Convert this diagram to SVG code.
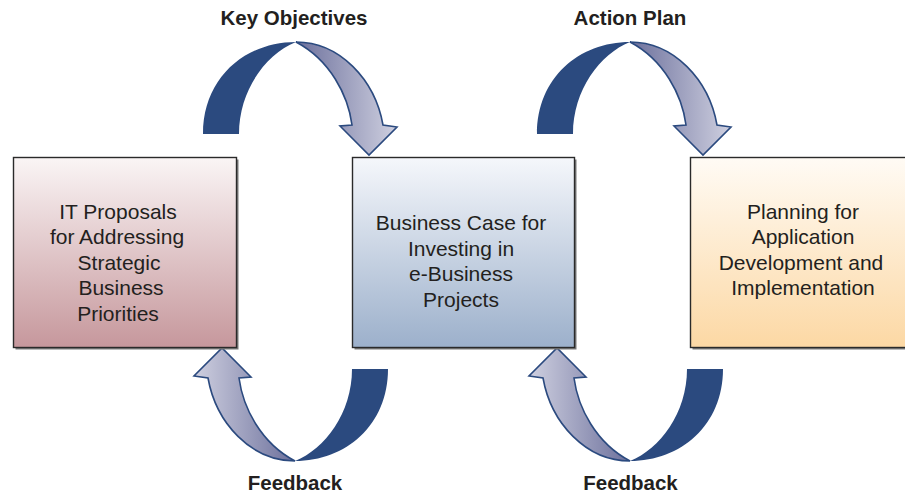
<svg xmlns="http://www.w3.org/2000/svg" xmlns:xlink="http://www.w3.org/1999/xlink" width="905" height="494" viewBox="0 0 905 494">
<style>
.box{stroke:#2a2a2a;stroke-width:1.4}
.shadow{fill:#7a7a7a}
.txt{font-family:"Liberation Sans",Arial,sans-serif;font-size:21px;fill:#231f20;text-anchor:middle}
.lbl{font-family:"Liberation Sans",Arial,sans-serif;font-size:20.5px;font-weight:bold;fill:#231f20;text-anchor:middle}
.dark{fill:#2b4a7f}
.light{fill:url(#gArrow);stroke:#2b4a7f;stroke-width:1.6;stroke-linejoin:miter}
</style>
<defs>
<linearGradient id="gRed" x1="0" y1="0" x2="0" y2="1">
<stop offset="0" stop-color="#faf5f5"/>
<stop offset="1" stop-color="#c6979c"/>
</linearGradient>
<linearGradient id="gBlue" x1="0" y1="0" x2="0" y2="1">
<stop offset="0" stop-color="#f5f7fb"/>
<stop offset="1" stop-color="#9cb0cb"/>
</linearGradient>
<linearGradient id="gOrange" x1="0" y1="0" x2="0" y2="1">
<stop offset="0" stop-color="#fffbf5"/>
<stop offset="1" stop-color="#fcd8a4"/>
</linearGradient>
<linearGradient id="gArrow" x1="0" y1="0" x2="1" y2="0">
<stop offset="0" stop-color="#6c709c"/>
<stop offset="1" stop-color="#cfd0e0"/>
</linearGradient>
<g id="arc">
<path class="dark" d="M203,134 C203,78 245,42 296,42 C266,54 239,90 239,134 Z"/>
<path class="light" d="M296,42 C340,42 375,80 383,125 L397,127 L369,155 L340,126 L352,125 C348,95 330,60 296,42 Z"/>
</g>
</defs>

<g id="connectors">
<g id="arc-key-objectives"><use xlink:href="#arc"/></g>
<g id="arc-action-plan"><use xlink:href="#arc" transform="translate(334,0)"/></g>
<g id="arc-feedback-1"><use xlink:href="#arc" transform="rotate(180 295.5 251.5)"/></g>
<g id="arc-feedback-2"><use xlink:href="#arc" transform="translate(335,0) rotate(180 295.5 251.5)"/></g>
</g>

<g id="node-it-proposals">
<rect class="shadow" x="15.5" y="159.5" width="223" height="190"/>
<rect class="box" x="13.5" y="157.5" width="223" height="190" fill="url(#gRed)"/>
<text class="txt" x="118" y="218.5">IT Proposals</text>
<text class="txt" x="117" y="244">for Addressing</text>
<text class="txt" x="119" y="269.5">Strategic</text>
<text class="txt" x="121" y="295">Business</text>
<text class="txt" x="118" y="320.5">Priorities</text>
</g>

<g id="node-business-case">
<rect class="shadow" x="354.5" y="159.5" width="222" height="190"/>
<rect class="box" x="352.5" y="157.5" width="222" height="190" fill="url(#gBlue)"/>
<text class="txt" x="461" y="230">Business Case for</text>
<text class="txt" x="461" y="255.5">Investing in</text>
<text class="txt" x="461" y="281">e-Business</text>
<text class="txt" x="461" y="306.5">Projects</text>
</g>

<g id="node-planning">
<rect class="shadow" x="692.5" y="159.5" width="230" height="190"/>
<rect class="box" x="690.5" y="157.5" width="230" height="190" fill="url(#gOrange)"/>
<text class="txt" x="803" y="218.5">Planning for</text>
<text class="txt" x="803" y="244">Application</text>
<text class="txt" x="801" y="269.5">Development and</text>
<text class="txt" x="803" y="295">Implementation</text>
</g>

<g id="labels">
<text class="lbl" x="294" y="25">Key Objectives</text>
<text class="lbl" x="630" y="25">Action Plan</text>
<text class="lbl" x="295" y="490">Feedback</text>
<text class="lbl" x="630.5" y="490">Feedback</text>
</g>
</svg>
